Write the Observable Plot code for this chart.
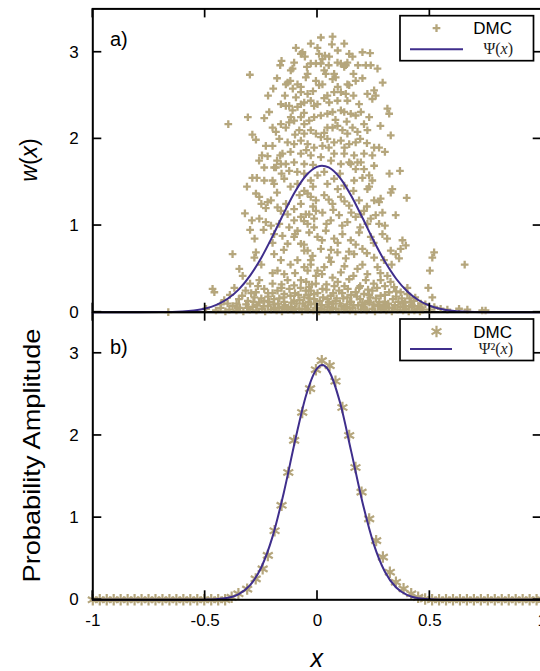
<!DOCTYPE html>
<html><head><meta charset="utf-8">
<script src="https://cdn.jsdelivr.net/npm/d3@7"></script>
<script src="https://cdn.jsdelivr.net/npm/@observablehq/plot@0.6"></script>
<style>
html,body{margin:0;padding:0;background:#fff;overflow:hidden;}
#chart{position:relative;width:540px;height:671px;overflow:hidden;}
#chart svg{position:absolute;left:0;top:0;overflow:visible;max-width:none !important;width:560px !important;height:671px !important;}
</style></head><body><div id="chart"></div>
<script>
// ---- data ----
const xTicks = [-1, -0.5, 0, 0.5, 1];
const yTicks = [0, 1, 2, 3];

// panel a) DMC walkers: [x, w(x)]
const walkers = [
[-0.301,2.74],[-0.397,2.17],[-0.166,2.85],[-0.197,2.58],[-0.274,1.99],[-0.237,2.24],[-0.215,2.31],[-0.230,1.92],[-0.200,1.92],[-0.247,1.81],[-0.222,1.80],[-0.166,1.81],[-0.156,1.83],[-0.185,2.08],[-0.133,2.65],[-0.141,2.63],[-0.121,2.67],[-0.111,2.81],[-0.119,2.79],[-0.104,2.88],[-0.096,3.05],[-0.074,2.98],[-0.056,2.95],[-0.067,3.00],[0.000,3.05],[0.007,2.98],[0.022,2.92],[0.033,2.96],[0.052,2.95],[0.015,2.87],[0.015,3.17],[0.067,3.18],[0.064,3.09],[0.119,3.10],[-0.047,2.83],[-0.030,2.87],[-0.007,2.87],[0.089,2.88],[0.104,2.87],[0.133,2.88],[0.156,2.95],[0.141,2.98],[0.119,2.83],[0.126,2.85],[0.215,2.85],[0.237,2.85],[0.267,2.81],[0.234,2.99],[0.170,2.67],[0.133,2.63],[0.141,2.62],[0.074,2.75],[0.081,2.71],[0.067,2.69],[0.037,2.75],[0.030,2.79],[-0.007,2.67],[0.007,2.62],[0.022,2.63],[-0.052,2.71],[-0.044,2.75],[-0.089,2.63],[-0.074,2.60],[0.104,2.54],[0.126,2.52],[0.133,2.44],[0.089,2.44],[0.074,2.54],[0.222,2.52],[0.252,2.56],[0.259,2.50],[0.244,2.46],[0.311,2.35],[0.319,2.29],[0.326,2.04],[-0.163,2.40],[-0.141,2.38],[-0.126,2.38],[-0.111,2.33],[-0.089,2.37],[-0.074,2.40],[-0.059,2.42],[-0.030,2.44],[-0.015,2.38],[0.000,2.40],[0.044,2.50],[0.052,2.42],[-0.074,2.54],[-0.044,2.52],[-0.096,2.48],[-0.119,2.25],[-0.104,2.21],[-0.074,2.25],[-0.059,2.17],[-0.037,2.21],[-0.015,2.25],[0.015,2.27],[0.044,2.29],[0.067,2.31],[0.104,2.33],[0.119,2.31],[0.148,2.29],[0.170,2.27],[0.193,2.31],[0.230,2.25],[-0.163,2.17],[-0.141,2.13],[-0.126,2.19],[-0.081,2.10],[-0.059,2.06],[-0.030,2.10],[-0.007,2.06],[0.015,2.02],[0.044,2.13],[0.067,2.13],[0.089,2.15],[0.111,2.10],[0.133,2.06],[0.156,2.13],[0.178,2.08],[0.207,2.17],[0.222,2.10],[0.252,1.90],[0.274,1.90],[0.244,1.81],[-0.170,2.00],[-0.133,1.96],[-0.104,1.94],[-0.074,1.98],[-0.044,1.94],[-0.015,1.90],[0.022,1.92],[0.044,2.00],[0.074,1.96],[0.104,1.98],[0.141,1.94],[0.170,1.96],[-0.074,1.83],[-0.030,1.81],[0.015,1.79],[0.074,1.83],[0.119,1.83],[0.163,1.81],[0.207,1.83],[-0.141,1.71],[-0.104,1.73],[-0.059,1.71],[0.104,1.71],[0.141,1.73],[0.193,1.73],[0.252,1.69],[-0.185,1.67],[-0.237,1.67],
[-0.314,1.45],[-0.274,1.37],[-0.259,1.33],[-0.237,1.52],[-0.200,1.52],[-0.193,1.48],[-0.148,1.54],[-0.222,1.27],[-0.207,1.29],[-0.323,1.14],[-0.292,1.06],[-0.259,1.08],[-0.230,1.04],[-0.207,1.00],[-0.178,1.21],[-0.163,1.17],[-0.133,1.13],[-0.104,1.19],[-0.193,1.67],[-0.163,1.71],[-0.126,1.63],[-0.089,1.48],[-0.059,1.40],[-0.030,1.33],[-0.074,1.25],[-0.378,0.67],[-0.274,0.69],[-0.281,0.63],[-0.348,0.50],[-0.333,0.42],[-0.259,0.37],[-0.237,0.27],[-0.274,0.23],[-0.467,0.27],[-0.459,0.23],[-0.193,0.67],[-0.163,0.60],[-0.178,0.48],[-0.148,0.44],[-0.133,0.79],[-0.104,0.87],[-0.074,0.79],[-0.044,0.71],[-0.193,0.90],[-0.156,0.88],[-0.126,0.98],[-0.089,0.94],[-0.044,1.02],[-0.015,0.98],[-0.104,1.06],[-0.074,1.10],[-0.037,1.13],[-0.007,1.17],[-0.089,0.60],[-0.059,0.52],[-0.030,0.60],[0.000,0.48],[-0.133,0.37],[-0.104,0.31],[-0.074,0.37],[-0.037,0.29],[-0.007,0.33],[-0.200,0.33],[-0.178,0.25],[-0.148,0.21],[-0.281,0.17],[-0.237,0.13],[-0.193,0.15],[-0.148,0.12],[-0.104,0.13],[-0.059,0.17],[-0.015,0.15],
[0.367,1.63],[0.397,1.32],[0.333,1.42],[0.326,1.38],[0.348,1.12],[0.281,1.31],[0.274,1.27],[0.289,1.15],[0.259,1.12],[0.378,0.83],[0.393,0.77],[0.370,0.73],[0.326,0.71],[0.348,0.67],[0.363,0.62],[0.519,0.69],[0.511,0.63],[0.500,0.48],[0.655,0.55],[0.493,0.28],[0.511,0.17],[0.252,0.63],[0.296,0.60],[0.267,0.52],[0.222,0.44],[0.281,0.37],[0.311,0.42],[0.341,0.29],[0.370,0.23],[0.400,0.21],[0.430,0.13],[0.237,0.87],[0.289,0.90],[0.274,1.02],[0.222,1.02],[0.237,1.08],[0.193,1.13],[0.244,1.52],[0.222,1.42],[0.252,1.29],[0.148,1.71],[0.178,1.73],[0.207,1.65],[0.230,1.58],
[-0.059,1.60],[-0.030,1.52],[0.000,1.58],[0.044,1.48],[0.074,1.54],[0.119,1.46],[0.163,1.52],
[-0.044,1.37],[-0.007,1.29],[0.030,1.35],[0.067,1.25],[0.104,1.33],[0.141,1.23],[0.185,1.29],
[-0.052,1.13],[-0.015,1.08],[0.022,1.15],[0.059,1.06],[0.096,1.12],[0.133,1.04],[0.170,1.10],[0.207,1.17],
[-0.037,0.92],[0.000,0.87],[0.037,0.94],[0.074,0.85],[0.111,0.90],[0.148,0.83],[0.185,0.92],
[-0.059,0.71],[-0.022,0.65],[0.015,0.73],[0.052,0.63],[0.089,0.69],[0.126,0.62],[0.163,0.67],[0.200,0.73],
[-0.044,0.48],[-0.007,0.42],[0.030,0.52],[0.067,0.40],[0.104,0.46],[0.141,0.38],[0.178,0.50],[0.215,0.37],
[-0.052,0.25],[-0.015,0.21],[0.022,0.27],[0.059,0.19],[0.096,0.25],[0.133,0.17],[0.170,0.23],[0.207,0.21],[0.244,0.25],[0.281,0.19],[0.319,0.23],
[-0.664,0.00],[-0.496,0.04],[-0.452,0.02],[-0.431,0.05],[-0.410,0.01],[-0.392,0.03],[-0.378,0.07],[-0.361,0.02],[-0.345,0.05],[-0.330,0.01],[-0.318,0.09],[-0.301,0.03],[-0.289,0.06],[-0.272,0.02],[-0.260,0.11],[-0.248,0.04],[-0.233,0.01],[-0.221,0.07],[-0.207,0.03],[-0.196,0.09],[-0.182,0.02],[-0.170,0.05],[-0.158,0.01],[-0.144,0.08],[-0.131,0.03],[-0.119,0.06],[-0.106,0.02],[-0.093,0.10],[-0.081,0.04],[-0.069,0.01],[-0.055,0.07],[-0.043,0.03],[-0.030,0.09],[-0.018,0.02],[-0.006,0.05],[0.007,0.01],[0.019,0.08],[0.031,0.03],[0.044,0.06],[0.056,0.02],[0.069,0.10],[0.081,0.04],[0.094,0.01],[0.106,0.07],[0.119,0.03],[0.131,0.09],[0.144,0.02],[0.156,0.05],[0.169,0.01],[0.181,0.08],[0.194,0.03],[0.206,0.06],[0.219,0.02],[0.231,0.11],[0.244,0.04],[0.256,0.01],[0.269,0.07],[0.281,0.03],[0.294,0.09],[0.306,0.02],[0.319,0.05],[0.331,0.01],[0.344,0.08],[0.356,0.03],[0.369,0.06],[0.381,0.02],[0.394,0.04],[0.406,0.01],[0.419,0.06],[0.431,0.02],[0.444,0.04],[0.456,0.01],[0.468,0.03],[0.548,0.04],[0.578,0.03],[0.630,0.04],[0.667,0.03],[0.733,0.02],[0.748,0.02],
[-0.350,0.15],[-0.310,0.13],[-0.220,0.18],[-0.170,0.16],[-0.120,0.19],[-0.080,0.14],[-0.035,0.16],[0.010,0.13],[0.045,0.15],[0.080,0.13],[0.115,0.16],[0.150,0.12],[0.190,0.15],[0.225,0.13],[0.260,0.16],[0.300,0.12],[0.335,0.15],[0.380,0.10],[0.420,0.08],[0.450,0.07],
[-0.02,2.55],[0.03,2.47],[0.09,2.60],[0.16,2.50],[0.185,2.40],[-0.11,2.58],[-0.145,2.50],[0.20,2.70],[-0.06,2.30],[0.08,2.22],[0.13,2.20],[-0.10,2.05],[0.03,2.07],[0.19,2.00],[-0.20,2.13],[-0.05,1.87],[0.05,1.90],[0.12,1.90],[0.22,1.95],[-0.12,1.85],[-0.18,1.75],[0.06,1.75],[-0.02,1.70],[0.17,1.65],[-0.09,1.62],[0.03,1.62],[0.10,1.60],[0.20,1.55],[-0.16,1.60],[-0.27,1.55],[-0.12,1.45],[-0.02,1.45],[0.09,1.42],[0.16,1.40],[0.23,1.45],[-0.18,1.38],[-0.08,1.35],[0.05,1.30],[0.12,1.28],[0.22,1.22],[-0.23,1.20],[-0.14,1.25],[-0.02,1.22],[0.07,1.18],[0.15,1.15],[-0.06,1.05],[0.04,1.02],[0.11,1.00],[0.19,0.98],[-0.17,1.02],[-0.24,0.95],[-0.10,0.90],[0.02,0.83],[0.09,0.80],[0.17,0.78],[0.25,0.80],[-0.20,0.80],[-0.15,0.72],[-0.06,0.78],[0.06,0.72],[0.14,0.70],[0.22,0.68],[-0.25,0.55],[-0.12,0.55],[-0.03,0.55],[0.06,0.58],[0.12,0.53],[0.20,0.55],[0.28,0.45],[-0.20,0.45],[-0.10,0.45],[0.02,0.44],[0.09,0.35],[0.16,0.42],[0.25,0.33],[-0.30,0.33],[-0.16,0.32],[-0.05,0.35],[0.04,0.32],[0.12,0.30],[0.19,0.30],[0.30,0.30],[-0.32,0.25],[-0.22,0.22],[-0.10,0.22],[-0.03,0.25],[0.07,0.22],[0.15,0.20],[0.23,0.20],[0.35,0.18],[-0.40,0.10],[-0.27,0.08],[-0.15,0.06],[-0.04,0.12],[0.05,0.09],[0.13,0.06],[0.21,0.09],[0.30,0.07],[0.39,0.12],[0.46,0.10],[-0.36,0.10],[0.41,0.16],
[-0.43,0.09],[-0.415,0.14],[-0.39,0.20],[-0.37,0.28],[-0.355,0.05],[-0.335,0.19],[-0.31,0.05],[-0.295,0.22],[-0.285,0.12],[-0.265,0.30],[-0.25,0.16],[-0.24,0.07],[-0.215,0.12],[-0.20,0.22],[-0.19,0.05],[-0.175,0.10],[-0.16,0.28],[-0.15,0.17],[-0.135,0.05],[-0.125,0.27],[-0.115,0.11],[-0.10,0.04],[-0.085,0.20],[-0.075,0.28],[-0.065,0.10],[-0.05,0.04],[-0.04,0.20],[-0.025,0.32],[-0.01,0.10],[0.0,0.22],[0.015,0.04],[0.025,0.17],[0.04,0.26],[0.05,0.12],[0.065,0.05],[0.075,0.30],[0.085,0.16],[0.10,0.10],[0.11,0.22],[0.125,0.05],[0.135,0.27],[0.145,0.12],[0.16,0.08],[0.175,0.18],[0.185,0.28],[0.20,0.11],[0.21,0.04],[0.225,0.26],[0.235,0.17],[0.25,0.09],[0.265,0.28],[0.275,0.12],[0.285,0.05],[0.30,0.20],[0.315,0.10],[0.325,0.35],[0.335,0.05],[0.35,0.24],[0.36,0.12],[0.375,0.16],[0.39,0.07],[0.40,0.28],[0.415,0.11],[0.435,0.17],[0.46,0.05],[0.48,0.09],[0.50,0.03],[0.52,0.06],
[-0.28,0.85],[-0.30,0.95],[-0.25,1.25],[-0.29,1.55],[-0.26,1.75],[-0.29,2.05],[-0.31,2.25],[0.29,2.65],[0.30,1.85],[0.32,1.60],[0.30,1.00],[0.31,0.85],[0.33,0.55],[0.28,2.15],[-0.22,2.50],[-0.18,2.70],[0.18,2.85],[0.20,3.00],[-0.03,3.10],[0.09,3.02],[-0.16,2.90],[0.05,2.85],[0.16,2.75]
];

// analytic curves
const curveX  = [-1,-0.8,-0.7,-0.6,-0.55,-0.5,-0.45,-0.4,-0.35,-0.3,-0.25,-0.2,-0.15,-0.1,-0.05,0,0.02,0.05,0.1,0.15,0.2,0.25,0.3,0.35,0.4,0.45,0.5,0.55,0.6,0.7,0.8,1];
const psiY    = [0,0,0.001,0.009,0.021,0.043,0.085,0.155,0.264,0.422,0.629,0.877,1.142,1.39,1.58,1.68,1.69,1.67,1.55,1.344,1.09,0.825,0.584,0.386,0.239,0.138,0.075,0.038,0.018,0.003,0,0];
const psi2Y   = [0,0,0,0,0,0.0018,0.0072,0.024,0.070,0.178,0.396,0.769,1.304,1.932,2.496,2.822,2.856,2.789,2.403,1.806,1.188,0.681,0.341,0.149,0.057,0.019,0.0056,0.0014,0.0003,0,0,0];

// panel b) DMC histogram
const starX = [-1,-0.969,-0.938,-0.907,-0.876,-0.845,-0.814,-0.783,-0.752,-0.721,-0.690,-0.659,-0.628,-0.597,-0.566,-0.535,-0.504,-0.473,-0.442,-0.411,-0.382,
  -0.352,-0.313,-0.275,-0.244,-0.221,-0.191,-0.160,-0.130,-0.104,-0.068,-0.033,-0.007,0.019,0.054,0.080,0.111,0.141,0.169,0.196,0.230,0.261,0.291,0.322,0.349,0.383,0.417,
  0.448,0.479,0.510,0.541,0.572,0.603,0.634,0.665,0.696,0.727,0.758,0.789,0.820,0.851,0.882,0.913,0.944,0.975,1.0];
const starY = [0,0,0,0,0,0,0,0,0,0,0,0,0,0,0,0,0,0,0,0,0.03,
  0.073,0.13,0.255,0.377,0.54,0.84,1.15,1.55,1.94,2.28,2.57,2.80,2.91,2.85,2.66,2.34,2.00,1.61,1.31,0.985,0.72,0.52,0.336,0.214,0.134,0.073,
  0.03,0.01,0,0,0,0,0,0,0,0,0,0,0,0,0,0,0,0,0];

// ---- drawing ----
const W = 560, H = 671;
const tan = "#b5a67c", purple = "#3f2e8c";
const sans = "'Liberation Sans', Arial, Helvetica, sans-serif";
const serif = "'Liberation Serif', 'DejaVu Serif', serif";
const fmt = d => String(d);

const psiData = curveX.map((x, i) => ({x, y: psiY[i]}));
const psi2Data = curveX.map((x, i) => ({x, y: psi2Y[i]}));
const starData = starX.map((x, i) => ({x, y: starY[i]}));

function panel(marginTop, marginBottom, marks, withX) {
  return Plot.plot({
    width: W, height: H,
    marginLeft: 92.3, marginRight: 18.3, marginTop, marginBottom,
    x: {domain: [-1, 1], axis: withX ? undefined : null},
    y: {domain: [0, 3.5]},
    style: {fontFamily: sans, fontSize: "17px", color: "#000", background: "transparent", overflow: "visible"},
    marks: [
      ...marks,
      Plot.frame({stroke: "#000", strokeWidth: 2}),
      Plot.axisY(yTicks, {anchor: "left", label: null, tickSize: 0, tickPadding: 14, tickFormat: fmt, fontSize: 17}),
      withX ? Plot.axisX(xTicks, {anchor: "bottom", label: null, tickSize: 0, tickPadding: 14, tickFormat: fmt, fontSize: 17}) : null
    ]
  });
}

function addTicks(svg) {
  const sx = svg.scale("x"), sy = svg.scale("y");
  const [x0, x1] = sx.range, [y0, y1] = sy.range; // y0 bottom, y1 top
  const g = d3.select(svg).append("g").attr("stroke", "#000").attr("stroke-width", 1.7);
  const L = 9;
  for (const t of yTicks) {
    const y = sy.apply(t);
    g.append("line").attr("x1", x0).attr("x2", x0 + L).attr("y1", y).attr("y2", y);
    g.append("line").attr("x1", x1).attr("x2", x1 - L).attr("y1", y).attr("y2", y);
  }
  for (const t of xTicks) {
    const x = sx.apply(t);
    g.append("line").attr("x1", x).attr("x2", x).attr("y1", y0).attr("y2", y0 - L);
    g.append("line").attr("x1", x).attr("x2", x).attr("y1", y1).attr("y2", y1 + L);
  }
}

const panelA = panel(8.4, H - 311.7, [
  Plot.dot(walkers, {x: d => d[0], y: d => d[1], symbol: "plus", r: 2.6, stroke: tan, strokeWidth: 2.3}),
  Plot.line(psiData, {x: "x", y: "y", stroke: purple, strokeWidth: 2, curve: "monotone-x"})
], false);
const panelB = panel(311.7, H - 599.3, [
  Plot.dot(starData, {x: "x", y: "y", symbol: "asterisk", r: 5.4, stroke: tan, strokeWidth: 2.2}),
  Plot.line(psi2Data, {x: "x", y: "y", stroke: purple, strokeWidth: 2, curve: "monotone-x"})
], true);
addTicks(panelA);
addTicks(panelB);

const chart = document.getElementById("chart");
chart.appendChild(panelB);
chart.appendChild(panelA);

// overlay: labels and legends
const ov = d3.select(chart).append("svg").attr("width", W).attr("height", H)
  .style("font-family", sans);

function legend(yTop, h, lineEnd, symbol, size, sw, psiParts) {
  const g = ov.append("g");
  g.append("rect").attr("x", 400).attr("y", yTop).attr("width", 133.5).attr("height", h)
    .attr("fill", "#fff").attr("stroke", "#000").attr("stroke-width", 1.7);
  g.append("path").attr("d", d3.symbol(symbol, size)())
    .attr("transform", `translate(436.5,${yTop + 12.5})`)
    .attr("fill", "none").attr("stroke", tan).attr("stroke-width", sw);
  g.append("text").attr("x", 512).attr("y", yTop + 12.5).attr("dy", "0.36em")
    .attr("text-anchor", "end").attr("font-size", 17).text("DMC");
  g.append("line").attr("x1", 410).attr("x2", lineEnd).attr("y1", yTop + h - 11.5).attr("y2", yTop + h - 11.5)
    .attr("stroke", purple).attr("stroke-width", 2);
  const t = g.append("text").attr("x", 513).attr("y", yTop + h - 11.5).attr("dy", "0.33em")
    .attr("text-anchor", "end").attr("font-family", serif).attr("font-size", 16).attr("fill", "#222");
  for (const [s, it] of psiParts) {
    const sp = t.append("tspan").text(s);
    if (it) sp.attr("font-style", "italic");
  }
}
legend(15.7, 45, 463, d3.symbolPlus, Math.PI * 2.6 * 2.6, 2.3, [["Ψ(", false], ["x", true], [")", false]]);
legend(319, 41.5, 452, d3.symbolAsterisk, Math.PI * 5.4 * 5.4, 2.2, [["Ψ²(", false], ["x", true], [")", false]]);

ov.append("text").attr("x", 110).attr("y", 46).attr("font-size", 20).text("a)");
ov.append("text").attr("x", 110).attr("y", 354).attr("font-size", 20).text("b)");

const wl = ov.append("text").attr("transform", "translate(29,160) rotate(-90)")
  .attr("text-anchor", "middle").attr("dy", "0.35em").attr("font-size", 23);
wl.append("tspan").attr("font-style", "italic").text("w");
wl.append("tspan").text("(");
wl.append("tspan").attr("font-style", "italic").text("x");
wl.append("tspan").text(")");

ov.append("text").attr("transform", "translate(32,455.5) rotate(-90)")
  .attr("text-anchor", "middle").attr("dy", "0.35em").attr("font-size", 24)
  .attr("textLength", 254).attr("lengthAdjust", "spacingAndGlyphs")
  .text("Probability Amplitude");

ov.append("text").attr("x", 316.7).attr("y", 658).attr("dy", "0.35em")
  .attr("text-anchor", "middle").attr("font-size", 25).attr("font-style", "italic").text("x");
</script></body></html>
